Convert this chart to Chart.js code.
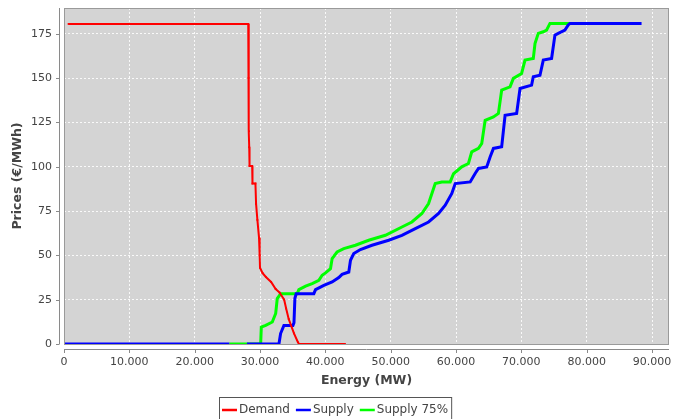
<!DOCTYPE html>
<html lang="en">
<head>
    <meta charset="UTF-8">
    <title>Demand and Supply Curves</title>
    <script src="https://cdn.jsdelivr.net/npm/chart.js"></script>
    <style>
        body { margin: 0; background: #fff; }
        canvas { display: block; }
    </style>
    <script>
        // demand curve
        const demandMW = [700, 2500, 4000, 6000, 8000, 9500, 11000, 13000, 15000, 16500, 18000, 20000, 22000, 24000, 26000, 28200,
            28250, 28300, 28350, 28400, 28800, 28850, 29300, 29400, 29600, 29850, 29950, 30000, 30400, 30900, 31700, 32400,
            33000, 33700, 34000, 34400, 35200, 35800, 36000, 43000];
        const demandPrice = [180.5, 180.5, 180.5, 180.5, 180.5, 180.5, 180.5, 180.5, 180.5, 180.5, 180.5, 180.5, 180.5, 180.5, 180.5, 180.5,
            150, 120, 111, 100.4, 100.4, 90.5, 90.5, 79, 70, 60, 50, 43, 40, 37.8, 35, 31,
            29, 25, 20, 14, 6, 1, 0, 0];

        // supply curve (null = gap)
        const supplyMW = [0, 25300, 26000, 28000, 32900, 33150, 33660, 35040, 35200, 35340, 35540, 38240, 38500, 39770, 41040, 42060,
            42560, 43590, 43850, 44350, 45370, 47140, 49700, 51720, 53770, 55800, 57330, 58350, 59360, 59880, 62170, 62930,
            63440, 64700, 65220, 65730, 66990, 67510, 69280, 69800, 71570, 71830, 72850, 73360, 74630, 75140, 75650, 76670,
            77180, 77440, 88400];
        const supplyPrice = [0, 0, null, 0, 0, 5.9, 10.5, 10.5, 12, 25.8, 28.4, 28.4, 30.7, 33.1, 35, 37.5,
            39.3, 40.6, 47.2, 51, 53.3, 55.7, 58.5, 61.3, 65.1, 68.8, 73.6, 78.3, 84.9, 90.5, 91.4, 96.2,
            99, 99.9, 105.5, 110.3, 111.2, 129, 130, 144.1, 146, 150.7, 151.6, 160.1, 161, 174.2, 175.2, 177,
            179.9, 180.8, 180.8];

        // supply 75% curve
        const supply75MW = [25300, 30100, 30200, 30870, 31880, 32400, 32640, 33160, 35690, 35950, 36980, 37980, 39010, 39510, 40030, 40790,
            41040, 41800, 42820, 44610, 46640, 49190, 51720, 53250, 54780, 55800, 56820, 57830, 59110, 59620, 60880, 61900,
            62410, 63440, 63940, 64460, 65730, 66490, 66990, 68270, 68780, 70040, 70560, 71830, 72090, 72590, 73360, 73860,
            74380, 81000];
        const supply75Price = [0, 0, 9.6, 10.5, 12.4, 17.2, 25.6, 28.4, 28.4, 30.7, 32.6, 34.1, 35.9, 38.8, 40.1, 42.5,
            48.2, 51.9, 53.8, 55.7, 58.5, 61.3, 66, 68.8, 73.6, 79.2, 90.5, 91.4, 91.4, 96, 99.9, 101.8,
            108.4, 110.3, 113.1, 126.2, 128.1, 130, 143.2, 145, 149.8, 152.6, 160.1, 161, 169.5, 175.2, 176.1, 177,
            180.8, 180.8];

        const seriesNames = ["Demand", "Supply", "Supply 75%"];
        const xTicks = [0, 10000, 20000, 30000, 40000, 50000, 60000, 70000, 80000, 90000];
        const yTicks = [0, 25, 50, 75, 100, 125, 150, 175];
        const xTitle = "Energy (MW)";
        const yTitle = "Prices (€/MWh)";

        function pairs(xs, ys) {
            return xs.map((x, i) => ({ x: x, y: ys[i] }));
        }

        function dotted(v) {
            return String(Math.round(v)).replace(/\B(?=(\d{3})+(?!\d))/g, ".");
        }

        const TXT = "#444444";
        const AXIS = "#8a8a8a";

        // plot background, offset axis lines, titles, legend
        const decor = {
            id: "decor",
            beforeDraw(chart) {
                const ctx = chart.ctx;
                const a = chart.chartArea;
                ctx.save();
                ctx.fillStyle = "#d4d4d4";
                ctx.fillRect(a.left, a.top, a.right - a.left, a.bottom - a.top);
                ctx.restore();
            },
            afterDraw(chart) {
                const ctx = chart.ctx;
                const a = chart.chartArea;
                const xs = chart.scales.x;
                const ys = chart.scales.y;
                ctx.save();
                ctx.strokeStyle = "#9a9a9a";
                ctx.lineWidth = 1;
                ctx.strokeRect(a.left + 0.5, a.top + 0.5, a.right - a.left - 1, a.bottom - a.top);

                // axis lines set off from the plot
                ctx.strokeStyle = AXIS;
                ctx.beginPath();
                ctx.moveTo(a.left - 4.5, a.top);
                ctx.lineTo(a.left - 4.5, a.bottom);
                ctx.moveTo(a.left, a.bottom + 5.5);
                ctx.lineTo(a.right, a.bottom + 5.5);
                ys.ticks.forEach(t => {
                    const py = Math.round(ys.getPixelForValue(t.value)) + 0.5;
                    ctx.moveTo(a.left - 4.5, py);
                    ctx.lineTo(a.left - 8, py);
                });
                xs.ticks.forEach(t => {
                    const px = Math.round(xs.getPixelForValue(t.value)) + 0.5;
                    ctx.moveTo(px, a.bottom + 5.5);
                    ctx.lineTo(px, a.bottom + 9);
                });
                ctx.stroke();

                // axis titles
                ctx.fillStyle = TXT;
                ctx.font = "bold 12.5px 'DejaVu Sans'";
                ctx.textAlign = "center";
                ctx.textBaseline = "middle";
                ctx.fillText(xTitle, (a.left + a.right) / 2, 381);
                ctx.translate(18, (a.top + a.bottom) / 2);
                ctx.rotate(-Math.PI / 2);
                ctx.fillText(yTitle, 0, 0);
                ctx.restore();

                // legend box
                ctx.save();
                ctx.font = "12px 'DejaVu Sans'";
                ctx.textBaseline = "middle";
                ctx.textAlign = "left";
                const left = 219, top = 397, ly = 410;
                let x = left + 3;
                chart.data.datasets.forEach((ds, i) => {
                    ctx.strokeStyle = ds.borderColor;
                    ctx.lineWidth = 2.5;
                    ctx.beginPath();
                    ctx.moveTo(x, ly);
                    ctx.lineTo(x + 15, ly);
                    ctx.stroke();
                    x += 17;
                    ctx.fillStyle = TXT;
                    ctx.fillText(ds.label, x, ly);
                    x += ctx.measureText(ds.label).width + 6;
                });
                ctx.strokeStyle = "#555";
                ctx.lineWidth = 1;
                ctx.strokeRect(left + 0.5, top + 0.5, x - left - 3, 30);
                ctx.restore();
            }
        };

        document.addEventListener("DOMContentLoaded", function () {
            const ctx = document.getElementById("marketChart").getContext("2d");
            new Chart(ctx, {
                type: "line",
                data: {
                    datasets: [
                        { label: seriesNames[0], data: pairs(demandMW, demandPrice), borderColor: "#ff0000", backgroundColor: "#ff0000",
                          borderWidth: 2, pointRadius: 1.3, pointStyle: "rect", pointBorderWidth: 0 },
                        { label: seriesNames[1], data: pairs(supplyMW, supplyPrice), borderColor: "#0000ff", backgroundColor: "#0000ff",
                          borderWidth: 3, pointRadius: 0, spanGaps: false },
                        { label: seriesNames[2], data: pairs(supply75MW, supply75Price), borderColor: "#00ff00", backgroundColor: "#00ff00",
                          borderWidth: 3, pointRadius: 0 }
                    ]
                },
                options: {
                    responsive: false,
                    animation: false,
                    events: [],
                    layout: { padding: { top: 8, right: -3, left: 0, bottom: 0 } },
                    plugins: { legend: { display: false }, tooltip: { enabled: false } },
                    scales: {
                        x: {
                            type: "linear",
                            min: 0,
                            max: 92600,
                            afterBuildTicks: s => { s.ticks = xTicks.map(v => ({ value: v })); },
                            afterFit: s => { s.height = 75; s.paddingRight = 0; s.paddingLeft = 0; },
                            grid: { color: "rgba(255,255,255,0.85)", drawTicks: false, lineWidth: 1 },
                            border: { display: false, dash: [2, 2] },
                            ticks: {
                                autoSkip: false,
                                padding: 12,
                                color: TXT,
                                font: { family: "DejaVu Sans", size: 11 },
                                maxRotation: 0,
                                callback: v => dotted(v)
                            }
                        },
                        y: {
                            min: 0,
                            max: 189.5,
                            afterBuildTicks: s => { s.ticks = yTicks.map(v => ({ value: v })); },
                            afterFit: s => { s.width = 64; s.paddingTop = 0; s.paddingBottom = 0; },
                            grid: { color: "rgba(255,255,255,0.85)", drawTicks: false, lineWidth: 1 },
                            border: { display: false, dash: [2, 2] },
                            ticks: {
                                padding: 12,
                                color: TXT,
                                font: { family: "DejaVu Sans", size: 11 }
                            }
                        }
                    }
                },
                plugins: [decor]
            });
        });
    </script>
</head>
<body>
    <canvas id="marketChart" width="673" height="419"></canvas>
</body>
</html>
